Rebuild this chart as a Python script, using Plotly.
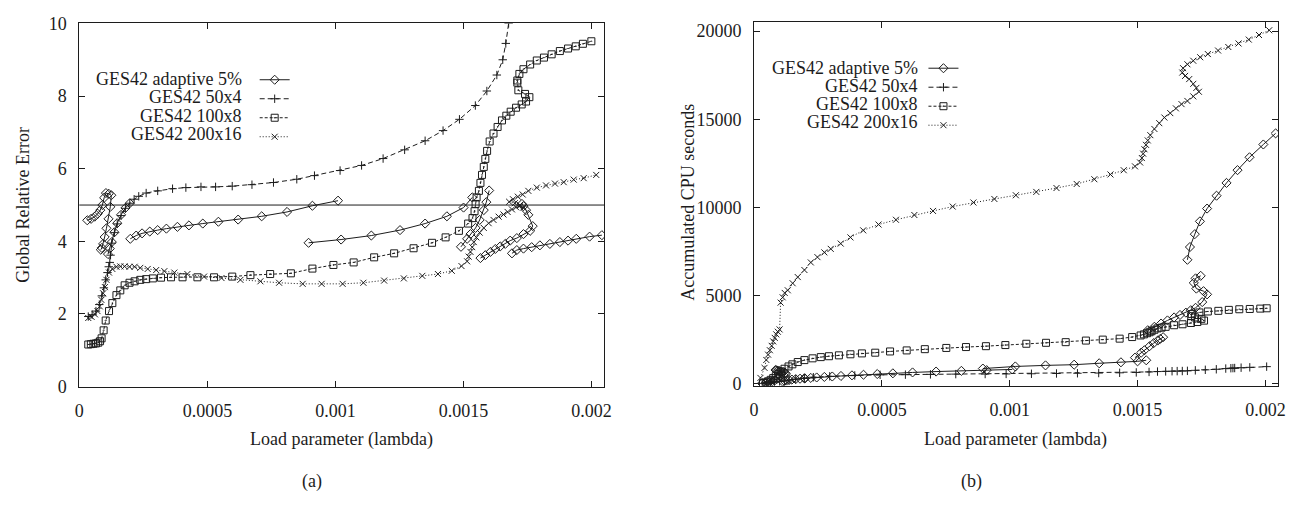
import plotly.graph_objects as go

# ---------------- data ----------------
# Left panel (a): Global Relative Error vs load parameter
L_ADAPT_X = [0.000031, 0.000046, 0.000060, 0.000072, 0.000082, 0.000090, 0.000097, 0.000104, 0.000115, 0.000125,
             0.000121, 0.000114, 0.000106, 0.000099, 0.000093, 0.000088, 0.000084, None,
             0.000112, 0.000119, 0.000127, 0.000137, 0.000148, 0.000163, 0.000180, 0.000197, None,
             0.000199, 0.000222, 0.000245, 0.000275, 0.000306, 0.000340, 0.000383, 0.000428, 0.000482, 0.000543,
             0.000620, 0.000712, 0.000811, 0.000910, 0.001010, None,
             0.000895, 0.001022, 0.001140, 0.001252, 0.001350, 0.001435, 0.001500, 0.001534, None,
             0.001490, 0.001514, 0.001527, 0.001547, 0.001563, 0.001579, 0.001589, 0.001600, None,
             0.001566, 0.001585, 0.001605, 0.001624, 0.001643, 0.001663, 0.001682, 0.001708, 0.001734, 0.001760,
             0.001770, 0.001753, 0.001744, 0.001734, 0.001728, None,
             0.001689, 0.001708, 0.001734, 0.001766, 0.001798, 0.001837, 0.001876, 0.001908, 0.001940, 0.001992, 0.002040]
L_ADAPT_Y = [4.58, 4.62, 4.68, 4.76, 4.86, 5.00, 5.20, 5.33, 5.31, 5.27,
             4.95, 4.62, 4.36, 4.12, 3.93, 3.82, 3.77, None,
             3.65, 3.80, 3.98, 4.25, 4.50, 4.73, 4.92, 5.05, None,
             4.07, 4.16, 4.22, 4.27, 4.31, 4.35, 4.40, 4.44, 4.49, 4.54,
             4.60, 4.69, 4.81, 4.98, 5.12, None,
             3.96, 4.05, 4.16, 4.31, 4.49, 4.69, 4.93, 5.21, None,
             3.85, 4.07, 4.20, 4.37, 4.59, 4.86, 5.08, 5.40, None,
             3.54, 3.62, 3.71, 3.79, 3.86, 3.93, 4.02, 4.09, 4.20, 4.29,
             4.42, 4.73, 4.86, 4.97, 5.03, None,
             3.67, 3.76, 3.80, 3.84, 3.89, 3.93, 3.98, 4.02, 4.07, 4.13, 4.17]

L_50X4_X = [0.000035, 0.000050, 0.000065, 0.000078, 0.000088, 0.000096, 0.000103, 0.000110, 0.000115, 0.000119,
            0.000122, 0.000127, 0.000137, 0.000148, 0.000163, 0.000180, 0.000197, 0.000214, 0.000232, 0.000261,
            0.000306, 0.000364, 0.000416, 0.000475, 0.000532, 0.000597, 0.000674, 0.000758, 0.000849, 0.000918,
            0.001018, 0.001102, 0.001186, 0.001270, 0.001350, 0.001420, 0.001484, 0.001546, 0.001591, 0.001630,
            0.001653, 0.001665, 0.001676]
L_50X4_Y = [1.93, 1.98, 2.08, 2.26, 2.50, 2.72, 2.94, 3.14, 3.30, 3.42,
            3.62, 3.95, 4.24, 4.48, 4.71, 4.91, 5.05, 5.16, 5.24, 5.33,
            5.39, 5.45, 5.48, 5.50, 5.50, 5.52, 5.56, 5.62, 5.71, 5.81,
            5.95, 6.09, 6.28, 6.52, 6.77, 7.05, 7.36, 7.74, 8.14, 8.58,
            9.00, 9.45, 10.0]

L_100X8_X = [0.000035, 0.000045, 0.000055, 0.000065, 0.000074, 0.000081, 0.000087, 0.000095, 0.000103, 0.000116,
             0.000129, 0.000145, 0.000160, 0.000177, 0.000196, 0.000216, 0.000238, 0.000261, 0.000287, 0.000319,
             0.000358, 0.000403, 0.000461, 0.000526, 0.000597, 0.000668, 0.000745, 0.000826, 0.000910, 0.000992,
             0.001071, 0.001151, 0.001229, 0.001305, 0.001377, 0.001430, 0.001482, 0.001518, 0.001535, 0.001543,
             0.001547, 0.001551, 0.001560, 0.001566, 0.001572, 0.001579, 0.001585, 0.001592, 0.001602, 0.001617,
             0.001633, 0.001650, 0.001667, 0.001684, 0.001705, 0.001727, 0.001744, 0.001757, 0.001740, 0.001714,
             0.001710, 0.001710, 0.001718, 0.001734, 0.001760, 0.001786, 0.001814, 0.001844, 0.001876, 0.001908,
             0.001938, 0.001966, 0.001999]
L_100X8_Y = [1.16, 1.17, 1.18, 1.19, 1.21, 1.25, 1.33, 1.55, 1.82, 2.08,
             2.30, 2.52, 2.65, 2.79, 2.86, 2.90, 2.94, 2.96, 2.98, 3.00,
             3.01, 3.01, 3.01, 3.01, 3.03, 3.07, 3.10, 3.12, 3.25, 3.35,
             3.42, 3.56, 3.67, 3.81, 3.96, 4.11, 4.29, 4.49, 4.64, 4.83,
             5.03, 5.21, 5.39, 5.61, 5.83, 6.05, 6.27, 6.49, 6.75, 6.97,
             7.15, 7.33, 7.46, 7.57, 7.68, 7.77, 7.85, 7.97, 8.06, 8.16,
             8.37, 8.43, 8.61, 8.74, 8.87, 8.98, 9.06, 9.15, 9.24, 9.31,
             9.37, 9.44, 9.51]

L_200X16_X = [0.000035, 0.000048, 0.000061, 0.000071, 0.000080, 0.000086, 0.000093, 0.000100, 0.000106, 0.000116,
              0.000129, 0.000145, 0.000160, 0.000177, 0.000196, 0.000216, 0.000238, 0.000267, 0.000300, 0.000332,
              0.000371, 0.000422, 0.000487, 0.000555, 0.000629, 0.000707, 0.000780, 0.000872, 0.000946, 0.001028,
              0.001109, 0.001190, 0.001267, 0.001339, 0.001400, 0.001454, 0.001492, 0.001514, 0.001520, 0.001527,
              0.001534, 0.001540, 0.001550, 0.001563, 0.001579, 0.001598, 0.001617, 0.001637, 0.001656, 0.001672,
              0.001689, 0.001705, 0.001720, 0.001733, 0.001720, 0.001700, 0.001678, 0.001693, 0.001712, 0.001731,
              0.001753, 0.001786, 0.001822, 0.001857, 0.001891, 0.001930, 0.001969, 0.002018]
L_200X16_Y = [1.89, 1.92, 1.99, 2.08, 2.21, 2.39, 2.57, 2.74, 2.94, 3.14,
              3.24, 3.30, 3.31, 3.31, 3.30, 3.30, 3.27, 3.24, 3.21, 3.18,
              3.14, 3.10, 3.03, 2.99, 2.94, 2.90, 2.86, 2.83, 2.83, 2.83,
              2.86, 2.92, 2.98, 3.05, 3.10, 3.19, 3.32, 3.45, 3.58, 3.71,
              3.84, 3.98, 4.11, 4.24, 4.37, 4.50, 4.59, 4.68, 4.74, 4.81,
              4.88, 4.94, 4.98, 4.93, 5.00, 5.05, 5.09, 5.16, 5.23, 5.29,
              5.39, 5.48, 5.54, 5.59, 5.63, 5.70, 5.74, 5.83]

THRESHOLD = 5.0

# Right panel (b): Accumulated CPU seconds vs load parameter
R_ADAPT_X = [0.000031, 0.000046, 0.000060, 0.000072, 0.000082, 0.000090, 0.000097, 0.000104, 0.000115, 0.000125,
             0.000121, 0.000114, 0.000106, 0.000099, 0.000093, 0.000088, 0.000084, None,
             0.000112, 0.000119, 0.000127, 0.000137, 0.000148, 0.000163, 0.000180, 0.000197, None,
             0.000199, 0.000222, 0.000245, 0.000275, 0.000306, 0.000340, 0.000383, 0.000428, 0.000482, 0.000543,
             0.000620, 0.000712, 0.000811, 0.000910, 0.001010, None,
             0.000895, 0.001022, 0.001140, 0.001252, 0.001350, 0.001435, 0.001500, 0.001534, None,
             0.001490, 0.001514, 0.001527, 0.001547, 0.001563, 0.001579, 0.001589, 0.001600, None,
             0.001540, 0.001566, 0.001592, 0.001617, 0.001643, 0.001666, 0.001689, 0.001708, 0.001727, 0.001753,
             0.001772, 0.001758, 0.001730, 0.001720, 0.001727, 0.001747, None,
             0.001695, 0.001705, 0.001724, 0.001744, 0.001772, 0.001809, 0.001848, 0.001891, 0.001938, 0.001992, 0.002040]
R_ADAPT_Y = [20, 50, 90, 140, 200, 270, 350, 430, 500, 560,
             610, 650, 690, 720, 745, 765, 780, None,
             120, 150, 180, 210, 235, 260, 285, 305, None,
             300, 330, 355, 385, 410, 440, 475, 510, 550, 590,
             640, 690, 730, 770, 810, None,
             860, 980, 1040, 1080, 1160, 1215, 1270, 1330, None,
             1480, 1760, 1900, 2130, 2300, 2450, 2545, 2640, None,
             3035, 3230, 3415, 3590, 3760, 3900, 4033, 4170, 4306, 4632,
             5068, 5250, 5395, 5722, 5977, 6120, None,
             7030, 7755, 8484, 9210, 9935, 10665, 11390, 12115, 12845, 13570, 14200]

R_50X4_X = [0.000035, 0.000050, 0.000065, 0.000080, 0.000100, 0.000119, 0.000137, 0.000163, 0.000197, 0.000232,
            0.000296, 0.000394, 0.000493, 0.000592, 0.000690, 0.000789, 0.000904, 0.000986, 0.001085, 0.001183,
            0.001265, 0.001348, 0.001430, 0.001495, 0.001545, 0.001578, 0.001610, 0.001635, 0.001655, 0.001675,
            0.001695, 0.001726, 0.001765, 0.001808, 0.001845, 0.001865, 0.001873, 0.001880, 0.001905, 0.001939,
            0.002005]
R_50X4_Y = [20, 40, 60, 90, 130, 170, 210, 260, 320, 370,
            420, 470, 505, 515, 530, 545, 550, 555, 565, 580,
            595, 605, 620, 640, 670, 690, 700, 710, 715, 720,
            730, 760, 790, 820, 860, 880, 885, 890, 910, 930,
            970]

R_100X8_X = [0.000035, 0.000045, 0.000055, 0.000065, 0.000075, 0.000085, 0.000095, 0.000105, 0.000119, 0.000135,
             0.000150, 0.000171, 0.000197, 0.000229, 0.000261, 0.000293, 0.000332, 0.000377, 0.000422, 0.000474,
             0.000532, 0.000597, 0.000668, 0.000752, 0.000829, 0.000907, 0.000983, 0.001065, 0.001142, 0.001219,
             0.001298, 0.001364, 0.001430, 0.001479, 0.001512, 0.001525, 0.001537, 0.001547, 0.001555, 0.001566,
             0.001578, 0.001594, 0.001610, 0.001643, 0.001676, 0.001709, 0.001734, 0.001760, 0.001750, 0.001725,
             0.001710, 0.001712, 0.001742, 0.001775, 0.001816, 0.001857, 0.001898, 0.001939, 0.001980, 0.002005]
R_100X8_Y = [40, 80, 140, 220, 320, 430, 560, 700, 850, 980,
             1100, 1230, 1340, 1440, 1510, 1560, 1610, 1670, 1720, 1760,
             1830, 1890, 1960, 2030, 2080, 2130, 2194, 2267, 2321, 2357,
             2448, 2502, 2557, 2647, 2738, 2800, 2865, 2920, 2980, 3060,
             3137, 3180, 3227, 3318, 3372, 3445, 3500, 3580, 3680, 3760,
             3830, 3950, 4043, 4098, 4134, 4188, 4225, 4240, 4261, 4279]

R_200X16_X = [0.000025, 0.000041, 0.000048, 0.000055, 0.000062, 0.000069, 0.000075, 0.000081, 0.000087, 0.000093,
              0.000100, 0.000104, 0.000112, 0.000120, 0.000132, 0.000151, 0.000171, 0.000197, 0.000222, 0.000248,
              0.000275, 0.000300, 0.000339, 0.000377, 0.000427, 0.000487, 0.000555, 0.000627, 0.000700, 0.000777,
              0.000858, 0.000940, 0.001024, 0.001104, 0.001183, 0.001262, 0.001331, 0.001394, 0.001446, 0.001490,
              0.001510, 0.001517, 0.001522, 0.001527, 0.001533, 0.001540, 0.001550, 0.001566, 0.001585, 0.001605,
              0.001628, 0.001650, 0.001672, 0.001695, 0.001718, 0.001740, 0.001730, 0.001718, 0.001702, 0.001686,
              0.001675, 0.001678, 0.001695, 0.001718, 0.001745, 0.001775, 0.001815, 0.001855, 0.001895, 0.001935,
              0.001975, 0.002015]
R_200X16_Y = [330, 900, 1350, 1650, 1900, 2150, 2400, 2600, 2800, 2950,
              3080, 4600, 4900, 5150, 5300, 5700, 6050, 6450, 6880, 7180,
              7450, 7650, 7950, 8300, 8700, 9030, 9300, 9570, 9800, 10050,
              10280, 10480, 10690, 10880, 11100, 11330, 11600, 11870, 12110, 12330,
              12550, 12800, 13050, 13300, 13550, 13800, 14100, 14450, 14780, 15100,
              15350, 15620, 15860, 16040, 16300, 16560, 16780, 17010, 17280, 17460,
              17650, 17900, 18120, 18320, 18520, 18700, 18900, 19100, 19300, 19520,
              19780, 20050]

SERIES_NAMES = ["GES42 adaptive 5%", "GES42 50x4", "GES42 100x8", "GES42 200x16"]
X_TICKS = [0, 0.0005, 0.001, 0.0015, 0.002]
X_TICK_TEXT = ["0", "0.0005", "0.001", "0.0015", "0.002"]
L_Y_TICKS = [0, 2, 4, 6, 8, 10]
L_Y_TICK_TEXT = ["0", "2", "4", "6", "8", "10"]
R_Y_TICKS = [0, 5000, 10000, 15000, 20000]
R_Y_TICK_TEXT = ["0", "5000", "10000", "15000", "20000"]

# ---------------- style ----------------
FONT = "Liberation Serif"
INK = "#1c1c1c"
STYLES = [
    dict(symbol="diamond-open", dash="solid", size=7),
    dict(symbol="cross-thin-open", dash="5px,3px", size=6),
    dict(symbol="square-open-dot", dash="3px,2px", size=7),
    dict(symbol="x-thin-open", dash="1px,2px", size=6),
]

fig = go.Figure()

left = [(L_ADAPT_X, L_ADAPT_Y), (L_50X4_X, L_50X4_Y), (L_100X8_X, L_100X8_Y), (L_200X16_X, L_200X16_Y)]
right = [(R_ADAPT_X, R_ADAPT_Y), (R_50X4_X, R_50X4_Y), (R_100X8_X, R_100X8_Y), (R_200X16_X, R_200X16_Y)]


def add_series(xs, ys, st, name, xa, ya):
    fig.add_trace(go.Scatter(
        x=xs, y=ys, name=name, mode="lines+markers", xaxis=xa, yaxis=ya,
        showlegend=False, connectgaps=False,
        line=dict(color=INK, width=1, dash=st["dash"]),
        marker=dict(symbol=st["symbol"], size=st["size"], color=INK,
                    line=dict(color=INK, width=1)),
    ))


for (xs, ys), st, nm in zip(left, STYLES, SERIES_NAMES):
    add_series(xs, ys, st, nm, "x", "y")
for (xs, ys), st, nm in zip(right, STYLES, SERIES_NAMES):
    add_series(xs, ys, st, nm, "x2", "y2")

# legend samples (gnuplot style: text on the left, sample on the right)
for lg in ("legend", "legend2"):
    for st in STYLES:
        fig.add_trace(go.Scatter(
            x=[None], y=[None], name="", mode="lines+markers",
            xaxis="x" if lg == "legend" else "x2", yaxis="y" if lg == "legend" else "y2",
            legend=lg, showlegend=True, hoverinfo="skip",
            line=dict(color=INK, width=1, dash=st["dash"]),
            marker=dict(symbol=st["symbol"], size=st["size"], color=INK,
                        line=dict(color=INK, width=1)),
        ))

W, H = 1303, 510
L_BOX = (75, 605, 14, 392)
R_BOX = (756, 1285, 13, 391)


def dom_x(b):
    return [b[0] / W, b[1] / W]


def dom_y(b):
    return [1 - b[3] / H, 1 - b[2] / H]


axis_common = dict(showgrid=False, zeroline=False, showline=True, linecolor=INK, linewidth=1,
                   mirror="ticks", ticks="inside", ticklen=6, tickcolor=INK, tickwidth=1,
                   tickfont=dict(family=FONT, size=18, color=INK))

fig.update_layout(
    width=W, height=H, margin=dict(l=0, r=0, t=0, b=0),
    paper_bgcolor="white", plot_bgcolor="white",
    font=dict(family=FONT, size=18, color=INK),
    xaxis=dict(domain=dom_x(L_BOX), range=[0, 0.00205], tickmode="array", tickvals=X_TICKS,
               ticktext=X_TICK_TEXT, ticklabelstandoff=8, anchor="y", **axis_common),
    yaxis=dict(domain=dom_y(L_BOX), range=[0, 10], tickmode="array", tickvals=L_Y_TICKS,
               ticktext=L_Y_TICK_TEXT, ticklabelstandoff=8, anchor="x", **axis_common),
    xaxis2=dict(domain=dom_x(R_BOX), range=[0, 0.00205], tickmode="array", tickvals=X_TICKS,
                ticktext=X_TICK_TEXT, ticklabelstandoff=8, anchor="y2", **axis_common),
    yaxis2=dict(domain=dom_y(R_BOX), range=[-110, 20490], tickmode="array", tickvals=R_Y_TICKS,
                ticktext=R_Y_TICK_TEXT, ticklabelstandoff=8, anchor="x2", **axis_common),
    legend=dict(x=252 / W, y=1 - 57.5 / H, xanchor="left", yanchor="top", bgcolor="rgba(0,0,0,0)",
                font=dict(size=12), itemwidth=30, tracegroupgap=0),
    legend2=dict(x=927 / W, y=1 - 45.5 / H, xanchor="left", yanchor="top", bgcolor="rgba(0,0,0,0)",
                 font=dict(size=12), itemwidth=30, tracegroupgap=0),
    showlegend=True,
)

fig.add_shape(type="line", xref="x domain", x0=0, x1=1, yref="y", y0=THRESHOLD, y1=THRESHOLD,
              line=dict(color=INK, width=1))

ann = []
# legend labels
for i, nm in enumerate(SERIES_NAMES):
    ann.append(dict(text=nm, x=241 / W, y=1 - (72 + 19 * i) / H, xref="paper", yref="paper",
                    xanchor="right", yanchor="middle", showarrow=False))
    ann.append(dict(text=nm, x=924 / W, y=1 - (60 + 19 * i) / H, xref="paper", yref="paper",
                    xanchor="right", yanchor="middle", showarrow=False))
# axis titles and captions
ann += [
    dict(text="Global Relative Error", x=18 / W, y=1 - 203 / H, textangle=-90),
    dict(text="Accumulated CPU seconds", x=690 / W, y=1 - 200 / H, textangle=-90),
    dict(text="Load parameter (lambda)", x=340 / W, y=1 - 447 / H),
    dict(text="Load parameter (lambda)", x=1020 / W, y=1 - 447 / H),
    dict(text="(a)", x=310 / W, y=1 - 491 / H),
    dict(text="(b)", x=975 / W, y=1 - 491 / H),
]
for a in ann:
    a.setdefault("xref", "paper")
    a.setdefault("yref", "paper")
    a.setdefault("showarrow", False)
    a.setdefault("xanchor", "center")
    a.setdefault("yanchor", "middle")
    a["font"] = dict(family=FONT, size=18, color=INK)
fig.update_layout(annotations=ann)

fig.write_html("out.html")
